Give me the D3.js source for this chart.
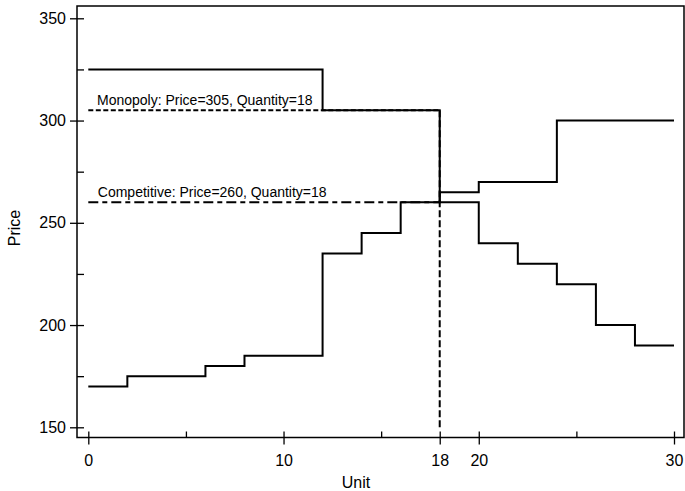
<!DOCTYPE html>
<html>
<head>
<meta charset="utf-8">
<script src="https://cdn.jsdelivr.net/npm/d3@7.9.0/dist/d3.min.js"></script>
<style>
  body { margin: 0; background: #fff; }
  svg text { font-family: "Liberation Sans", Arial, sans-serif; fill: #000; }
</style>
</head>
<body>
<svg id="chart" width="685" height="491"></svg>
<script>
// supply and demand steps (unit where the step starts, price)
const supplyUnits = [0, 2, 6, 8, 12, 14, 16, 18, 20, 24, 30];
const supplyPrices = [170, 175, 180, 185, 235, 245, 260, 265, 270, 300, 300];
const demandUnits = [0, 12, 18, 20, 22, 24, 26, 28, 30];
const demandPrices = [325, 305, 260, 240, 230, 220, 200, 190, 190];

const monopoly = { price: 305, quantity: 18 };
const competitive = { price: 260, quantity: 18 };

const xMajorTicks = [0, 10, 18, 20, 30];
const xMinorTicks = [5, 15, 25];
const yMajorTicks = [150, 200, 250, 300, 350];
const yMinorTicks = [175, 225, 275, 325];

const svg = d3.select("#chart");

const box = { left: 77, top: 6, right: 684, bottom: 437.5 };

const x = d3.scaleLinear().domain([0, 30]).range([88.3, 674]);
const y = d3.scaleLinear().domain([150, 350]).range([427.3, 18.3]);

// frame
svg.append("rect")
  .attr("x", box.left).attr("y", box.top)
  .attr("width", box.right - box.left)
  .attr("height", box.bottom - box.top)
  .attr("fill", "none").attr("stroke", "#000").attr("stroke-width", 1.5);

function cleanAxis(g) {
  g.select(".domain").remove();
  g.selectAll(".tick line").attr("stroke", "#000").attr("stroke-width", 1.3);
}

// x axis: major ticks cross the line, minor ticks inside only
svg.append("g")
  .attr("transform", `translate(0,${box.bottom})`)
  .call(d3.axisBottom(x).tickValues(xMajorTicks).tickSize(7).tickPadding(10).tickSizeOuter(0))
  .call(cleanAxis)
  .call(g => g.selectAll("text").attr("font-size", 16));

svg.append("g")
  .attr("transform", `translate(0,${box.bottom})`)
  .call(d3.axisTop(x).tickValues(xMajorTicks.concat(xMinorTicks)).tickSize(6).tickFormat("").tickSizeOuter(0))
  .call(cleanAxis);

// y axis
svg.append("g")
  .attr("transform", `translate(${box.left},0)`)
  .call(d3.axisLeft(y).tickValues(yMajorTicks).tickSize(7).tickPadding(4).tickSizeOuter(0))
  .call(cleanAxis)
  .call(g => g.selectAll("text").attr("font-size", 16));

svg.append("g")
  .attr("transform", `translate(${box.left},0)`)
  .call(d3.axisRight(y).tickValues(yMajorTicks.concat(yMinorTicks)).tickSize(7).tickFormat("").tickSizeOuter(0))
  .call(cleanAxis);

// axis titles
svg.append("text")
  .attr("x", 356).attr("y", 488)
  .attr("text-anchor", "middle").attr("font-size", 16)
  .text("Unit");

svg.append("text")
  .attr("transform", "translate(20,228) rotate(-90)")
  .attr("text-anchor", "middle").attr("font-size", 16)
  .text("Price");

// reference lines
const refLine = d3.line().x(d => x(d[0])).y(d => y(d[1]));

svg.append("path")
  .attr("d", refLine([[0, monopoly.price], [monopoly.quantity, monopoly.price]]))
  .attr("fill", "none").attr("stroke", "#000").attr("stroke-width", 2)
  .attr("stroke-dasharray", "5,2.5");

svg.append("path")
  .attr("d", refLine([[monopoly.quantity, monopoly.price], [monopoly.quantity, 150]]))
  .attr("fill", "none").attr("stroke", "#000").attr("stroke-width", 2)
  .attr("stroke-dasharray", "7,3");

svg.append("path")
  .attr("d", refLine([[0, competitive.price], [competitive.quantity, competitive.price]]))
  .attr("fill", "none").attr("stroke", "#000").attr("stroke-width", 2)
  .attr("stroke-dasharray", "10,4,5,4");

// step curves
const step = d3.line()
  .x(d => x(d[0]))
  .y(d => y(d[1]))
  .curve(d3.curveStepAfter);

svg.append("path")
  .attr("d", step(d3.zip(supplyUnits, supplyPrices)))
  .attr("fill", "none").attr("stroke", "#000").attr("stroke-width", 2);

svg.append("path")
  .attr("d", step(d3.zip(demandUnits, demandPrices)))
  .attr("fill", "none").attr("stroke", "#000").attr("stroke-width", 2);

// annotations
svg.append("text")
  .attr("x", x(0) + 8.7).attr("y", y(monopoly.price) - 5.5)
  .attr("font-size", 14)
  .text(`Monopoly: Price=${monopoly.price}, Quantity=${monopoly.quantity}`);

svg.append("text")
  .attr("x", x(0) + 9.5).attr("y", y(competitive.price) - 5.5)
  .attr("font-size", 14)
  .text(`Competitive: Price=${competitive.price}, Quantity=${competitive.quantity}`);
</script>
</body>
</html>
